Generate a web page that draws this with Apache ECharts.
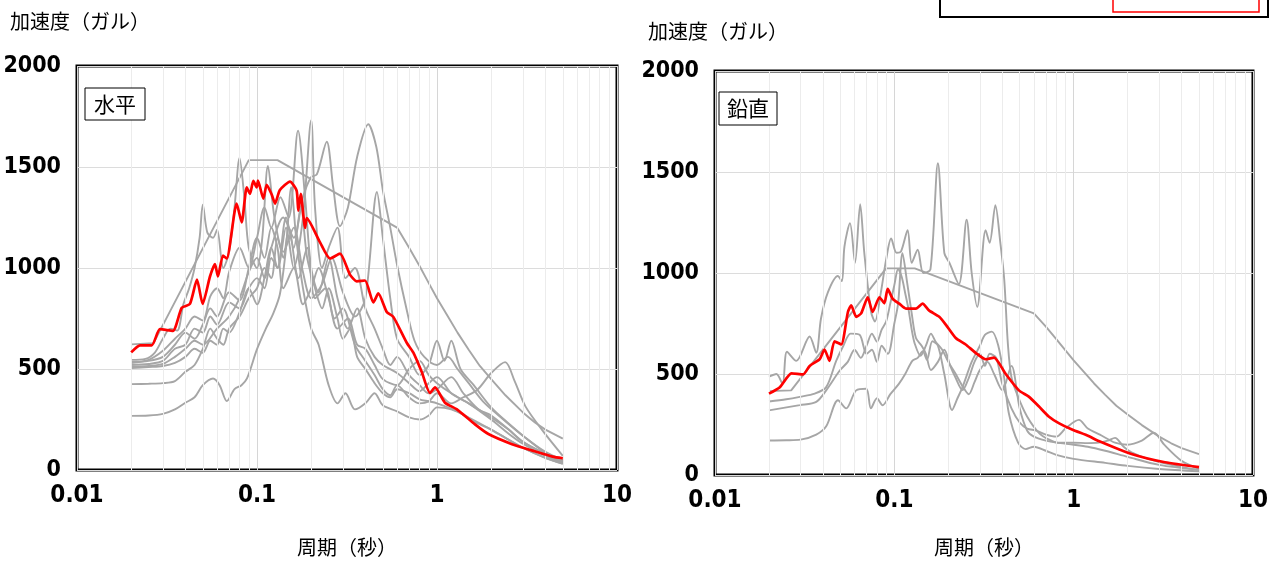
<!DOCTYPE html>
<html><head><meta charset="utf-8">
<script src="https://cdn.jsdelivr.net/npm/echarts/dist/echarts.min.js"></script>
<style>html,body{margin:0;padding:0;background:#fff}#c{width:1271px;height:562px}</style>
</head><body><div id="c"></div>
<script>
// ---------- tick labels ----------
const xTickLabels = ['0.01', '0.1', '1', '10'];
const minorTicks = [0.02,0.03,0.04,0.05,0.06,0.07,0.08,0.09,0.2,0.3,0.4,0.5,0.6,0.7,0.8,0.9,2,3,4,5,6,7,8,9];
const panelTitles = ['水平', '鉛直'];
const yAxisTitle = '加速度（ガル）';
const xAxisTitle = '周期（秒）';

// ---------- horizontal (水平) : [period(s), acceleration(gal)] ----------
const hDesign = [[0.02,622],[0.0266,628],[0.09,1534],[0.13,1534],[0.6,1200],[0.7,1100],[0.8,1010],[0.9,925],[1,850],[1.15,760],[1.3,680],[1.5,595],[1.73,515],[2,450],[2.4,370],[3,285],[3.5,235],[4,200],[5,155]];
const hRed = [[0.02,582],[0.0224,617],[0.026,617],[0.0289,697],[0.0341,689],[0.0382,803],[0.0424,822],[0.0464,942],[0.0499,822],[0.0548,958],[0.0584,1019],[0.0607,958],[0.0647,1062],[0.0679,1047],[0.0771,1319],[0.0822,1226],[0.0877,1399],[0.0914,1367],[0.0954,1431],[0.0996,1399],[0.1013,1433],[0.1084,1343],[0.1132,1412],[0.1207,1364],[0.126,1319],[0.134,1386],[0.1525,1428],[0.166,1383],[0.1696,1284],[0.175,1367],[0.185,1199],[0.189,1247],[0.224,1127],[0.2545,1047],[0.289,1071],[0.329,966],[0.358,934],[0.398,938],[0.443,830],[0.472,874],[0.526,782],[0.572,758],[0.679,630],[0.738,582],[0.822,486],[0.914,381],[0.975,409],[1.108,333],[1.285,301],[1.626,226],[1.93,178],[2.61,128],[3.39,96],[4.39,66],[5,58]];
const h1 = [[0.02,545],[0.024,550],[0.027,580],[0.03,650],[0.033,700],[0.036,690],[0.039,820],[0.042,900],[0.045,1000],[0.048,1150],[0.05,1313],[0.053,1175],[0.057,1150],[0.06,1190],[0.065,1000],[0.07,1080],[0.075,1300],[0.08,1545],[0.085,1350],[0.09,1100],[0.1,1000],[0.107,1150],[0.115,1505],[0.125,1250],[0.14,1080],[0.16,1200],[0.18,980],[0.2,850],[0.23,920],[0.26,1050],[0.3,880],[0.35,760],[0.4,850],[0.464,1376],[0.5,1150],[0.55,850],[0.6,650],[0.7,560],[0.8,470],[0.9,520],[1,640],[1.1,540],[1.2,640],[1.35,500],[1.6,420],[2,310],[2.5,230],[3,170],[4,85],[5,45]];
const h2 = [[0.02,530],[0.025,545],[0.03,590],[0.035,650],[0.04,700],[0.045,760],[0.05,740],[0.055,860],[0.06,900],[0.065,850],[0.07,980],[0.08,1100],[0.09,1000],[0.1,1150],[0.11,1300],[0.12,1200],[0.135,1350],[0.15,1250],[0.169,1680],[0.185,1350],[0.2,1000],[0.22,880],[0.25,1050],[0.28,850],[0.32,700],[0.36,800],[0.4,650],[0.45,560],[0.5,520],[0.6,480],[0.7,430],[0.8,390],[0.9,430],[1,460],[1.2,380],[1.5,330],[2,250],[2.5,180],[3,130],[4,70],[5,35]];
const h3 = [[0.02,520],[0.025,525],[0.03,540],[0.035,600],[0.04,620],[0.045,700],[0.05,680],[0.055,760],[0.06,720],[0.07,830],[0.08,800],[0.09,900],[0.1,950],[0.11,900],[0.12,1050],[0.13,1000],[0.145,1200],[0.16,1000],[0.18,1250],[0.2,1732],[0.21,1300],[0.23,1000],[0.25,1100],[0.28,1200],[0.31,950],[0.35,1000],[0.4,800],[0.45,700],[0.5,600],[0.55,520],[0.6,560],[0.7,470],[0.8,420],[0.9,380],[1,400],[1.2,460],[1.4,380],[1.7,300],[2,270],[2.5,200],[3,140],[4,80],[5,40]];
const h4 = [[0.02,510],[0.025,515],[0.03,525],[0.035,560],[0.04,600],[0.045,640],[0.05,620],[0.06,700],[0.07,760],[0.08,850],[0.09,980],[0.1,1050],[0.11,950],[0.12,1100],[0.14,1250],[0.16,1150],[0.18,1350],[0.2,1450],[0.215,1463],[0.244,1625],[0.265,1400],[0.289,1207],[0.32,1300],[0.36,1550],[0.415,1712],[0.46,1600],[0.5,1386],[0.55,1200],[0.6,1015],[0.68,790],[0.75,640],[0.85,560],[1,520],[1.15,560],[1.3,500],[1.5,430],[1.8,340],[2.2,270],[3,170],[4,90],[5,50]];
const h5 = [[0.02,425],[0.025,427],[0.03,430],[0.035,440],[0.04,486],[0.045,520],[0.05,600],[0.055,700],[0.06,650],[0.065,620],[0.07,700],[0.08,760],[0.09,850],[0.1,900],[0.11,1000],[0.12,950],[0.13,1150],[0.14,1050],[0.15,1200],[0.17,950],[0.19,1100],[0.21,850],[0.24,900],[0.27,750],[0.3,800],[0.35,620],[0.4,540],[0.45,470],[0.5,400],[0.55,370],[0.6,420],[0.7,360],[0.8,330],[0.9,340],[1,380],[1.2,330],[1.4,360],[1.67,396],[2,480],[2.39,534],[2.7,440],[3.1,315],[3.9,190],[5,70]];
const h6 = [[0.02,268],[0.025,270],[0.03,278],[0.035,300],[0.04,333],[0.045,360],[0.05,420],[0.057,453],[0.062,420],[0.068,341],[0.075,400],[0.082,420],[0.088,453],[0.1,598],[0.112,700],[0.123,774],[0.134,870],[0.145,1100],[0.155,1400],[0.165,1150],[0.18,900],[0.2,700],[0.22,620],[0.25,420],[0.28,330],[0.31,380],[0.35,300],[0.4,330],[0.45,380],[0.5,320],[0.6,290],[0.7,260],[0.8,250],[0.9,270],[1,310],[1.2,300],[1.5,260],[2,200],[3,110],[4,60],[5,30]];
const h7 = [[0.02,535],[0.025,540],[0.03,560],[0.035,620],[0.04,680],[0.045,650],[0.05,720],[0.055,800],[0.06,760],[0.07,880],[0.08,840],[0.09,1000],[0.1,1150],[0.11,1050],[0.12,1200],[0.13,1100],[0.14,900],[0.16,1000],[0.18,820],[0.2,900],[0.22,1000],[0.25,850],[0.28,700],[0.32,750],[0.36,620],[0.4,600],[0.45,520],[0.5,450],[0.6,420],[0.7,500],[0.8,540],[0.9,470],[1,430],[1.2,380],[1.5,330],[2,260],[2.5,200],[3,140],[4,80],[5,45]];
const h8 = [[0.02,505],[0.025,510],[0.03,515],[0.035,530],[0.04,560],[0.045,600],[0.05,580],[0.055,640],[0.06,620],[0.065,700],[0.07,680],[0.08,780],[0.09,900],[0.1,820],[0.11,950],[0.12,1100],[0.13,1000],[0.145,1250],[0.16,1100],[0.175,1300],[0.19,1050],[0.21,900],[0.23,800],[0.25,900],[0.28,750],[0.3,650],[0.33,700],[0.36,560],[0.4,500],[0.45,430],[0.5,380],[0.55,360],[0.6,400],[0.7,380],[0.8,350],[0.9,340],[1,330],[1.3,290],[1.6,240],[2,200],[3,110],[4,60],[5,32]];

// ---------- vertical (鉛直) ----------
const vDesign = [[0.02,415],[0.0266,419],[0.09,1023],[0.13,1023],[0.6,800],[0.7,735],[0.8,673],[0.9,617],[1,567],[1.15,507],[1.3,453],[1.5,397],[1.73,343],[2,300],[2.4,247],[3,190],[3.5,157],[4,133],[5,103]];
const vRed = [[0.02,403],[0.023,435],[0.0267,503],[0.031,498],[0.0337,540],[0.0383,573],[0.0408,621],[0.0435,565],[0.0464,662],[0.0506,646],[0.0551,807],[0.0575,840],[0.0613,783],[0.0653,800],[0.0711,880],[0.0757,807],[0.0826,880],[0.088,850],[0.0918,921],[0.098,872],[0.1066,848],[0.116,824],[0.132,824],[0.1436,848],[0.156,815],[0.178,783],[0.194,743],[0.22,678],[0.25,646],[0.284,605],[0.323,573],[0.36,581],[0.418,500],[0.495,419],[0.562,388],[0.639,340],[0.726,290],[0.826,257],[0.979,225],[1.21,193],[1.38,168],[2.1,104],[3.23,63],[5,39]];
const v1 = [[0.02,487],[0.022,500],[0.0238,451],[0.0252,610],[0.0284,565],[0.0337,686],[0.0367,605],[0.039,775],[0.0426,904],[0.0484,985],[0.051,960],[0.0527,1131],[0.0566,1247],[0.0604,1050],[0.0645,1341],[0.068,1100],[0.0742,807],[0.078,760],[0.084,900],[0.09,1066],[0.096,1171],[0.103,1100],[0.109,1107],[0.1186,1212],[0.125,1050],[0.135,1115],[0.145,1000],[0.159,1018],[0.175,1543],[0.19,1100],[0.203,1050],[0.229,945],[0.253,1264],[0.27,1000],[0.29,832],[0.323,1212],[0.34,1150],[0.366,1336],[0.39,1150],[0.41,969],[0.43,646],[0.45,484],[0.49,387],[0.55,290],[0.64,209],[0.73,175],[0.82,160],[1,160],[1.2,158],[1.38,160],[1.55,170],[1.7,184],[1.9,140],[2.1,112],[2.6,80],[3.5,50],[5,24]];
const v3 = [[0.02,364],[0.025,375],[0.0297,387],[0.036,403],[0.0417,435],[0.0474,565],[0.052,640],[0.057,700],[0.064,694],[0.07,600],[0.075,620],[0.08,560],[0.085,640],[0.092,600],[0.1,750],[0.105,850],[0.111,1098],[0.118,950],[0.125,800],[0.132,678],[0.142,640],[0.15,600],[0.16,520],[0.175,560],[0.19,620],[0.205,540],[0.22,480],[0.24,420],[0.26,480],[0.28,560],[0.3,600],[0.32,540],[0.34,600],[0.37,580],[0.4,450],[0.45,330],[0.5,260],[0.55,230],[0.62,220],[0.7,200],[0.8,190],[0.9,230],[1.07,273],[1.2,230],[1.4,200],[1.7,160],[2,150],[2.4,170],[2.8,209],[3.2,150],[4,70],[5,30]];
const v4 = [[0.02,320],[0.0297,346],[0.0367,362],[0.0417,419],[0.0495,516],[0.055,560],[0.06,620],[0.065,580],[0.07,640],[0.075,700],[0.08,660],[0.085,720],[0.09,760],[0.095,850],[0.1,940],[0.105,1020],[0.11,980],[0.115,900],[0.12,820],[0.125,720],[0.13,650],[0.14,590],[0.15,640],[0.16,700],[0.17,660],[0.185,620],[0.2,560],[0.22,500],[0.24,440],[0.26,400],[0.28,460],[0.3,520],[0.33,560],[0.36,500],[0.4,420],[0.45,540],[0.5,330],[0.55,220],[0.6,190],[0.7,170],[0.8,160],[1,150],[1.2,140],[1.5,120],[2,90],[3,50],[5,25]];
const v5 = [[0.02,171],[0.025,172],[0.03,175],[0.0367,200],[0.0417,241],[0.0485,370],[0.0539,330],[0.0613,419],[0.0697,427],[0.074,330],[0.08,380],[0.086,345],[0.095,400],[0.106,451],[0.115,500],[0.126,565],[0.135,580],[0.144,613],[0.152,570],[0.163,662],[0.175,640],[0.19,500],[0.21,322],[0.225,380],[0.24,435],[0.27,560],[0.3,640],[0.32,694],[0.35,710],[0.38,640],[0.41,480],[0.435,306],[0.49,160],[0.54,128],[0.6,140],[0.7,120],[0.8,100],[1,80],[1.5,60],[2,45],[3,30],[5,18]];

const hGray = [h1, h2, h3, h4, h5, h6, h7, h8];
const vGray = [v1, v3, v4, v5];

// ---------- chart ----------
const chart = echarts.init(document.getElementById('c'), null, {renderer: 'canvas'});
const numFont = '"Liberation Sans Narrow", "DejaVu Sans Condensed", "Liberation Sans", Arial, sans-serif';
const cjk = '"Noto Sans CJK JP", "Noto Sans CJK SC", sans-serif';
const GRAY = '#a6a6a6';

function xAxisCfg(gi) {
  return {
    type: 'log', logBase: 10, min: 0.01, max: 10, gridIndex: gi,
    name: xAxisTitle, nameLocation: 'middle', nameGap: gi === 0 ? 67 : 62,
    nameTextStyle: {fontFamily: cjk, fontSize: 20, color: '#000'},
    axisLine: {show: false}, axisTick: {show: false},
    axisLabel: {
      color: '#000', fontFamily: numFont, fontWeight: 'bold', fontSize: 24, margin: 14,
      showMinLabel: true, showMaxLabel: true,
      formatter: v => xTickLabels[Math.round(Math.log10(v)) + 2]
    },
    splitLine: {show: true, lineStyle: {color: '#d6d6d6', width: 1}}
  };
}
function yAxisCfg(gi) {
  return {
    type: 'value', min: 0, max: 2000, interval: 500, gridIndex: gi,
    axisLine: {show: false}, axisTick: {show: false},
    axisLabel: {color: '#000', fontFamily: numFont, fontWeight: 'bold', fontSize: 23, margin: 16,
      formatter: v => String(v)},
    splitLine: {show: true, lineStyle: {color: '#dcdcdc', width: 1}}
  };
}
function grayLine(data, gi, smooth) {
  return {type: 'line', xAxisIndex: gi, yAxisIndex: gi, data: data, symbol: 'none', showSymbol: false,
    smooth: smooth, lineStyle: {color: GRAY, width: 1.9}, silent: true, z: 3};
}
function redLine(data, gi) {
  return {type: 'line', xAxisIndex: gi, yAxisIndex: gi, data: data, symbol: 'none', showSymbol: false,
    smooth: 0.2, lineStyle: {color: '#ff0000', width: 2.7}, silent: true, z: 5};
}
function minorGrid(gi) {
  return {type: 'line', xAxisIndex: gi, yAxisIndex: gi, data: [[1, 0]], symbol: 'none', showSymbol: false,
    lineStyle: {width: 0, opacity: 0}, silent: true, z: 1,
    markLine: {silent: true, symbol: 'none', animation: false, label: {show: false},
      lineStyle: {color: '#ececec', width: 1, type: 'solid'},
      data: minorTicks.map(t => ({xAxis: t}))}};
}

const series = [minorGrid(0), minorGrid(1)];
series.push(grayLine(hDesign, 0, false));
hGray.forEach(d => series.push(grayLine(d, 0, 0.3)));
series.push(redLine(hRed, 0));
series.push(grayLine(vDesign, 1, false));
vGray.forEach(d => series.push(grayLine(d, 1, 0.3)));
series.push(redLine(vRed, 1));

function panelLabel(x, y, w, h, text) {
  return {type: 'group', children: [
    {type: 'rect', shape: {x: x, y: y, width: w, height: h}, style: {fill: '#fff', stroke: '#000', lineWidth: 1}, z: 10},
    {type: 'text', x: x + w / 2, y: y + h / 2, style: {text: text, fill: '#000', font: '21px ' + cjk, textAlign: 'center', textVerticalAlign: 'middle'}, z: 11}
  ]};
}

chart.setOption({
  animation: false,
  backgroundColor: '#fff',
  grid: [
    {left: 77, top: 66, width: 540, height: 415, show: true, borderColor: '#000', borderWidth: 3, backgroundColor: 'transparent', containLabel: false},
    {left: 715, top: 71, width: 540, height: 412, show: true, borderColor: '#000', borderWidth: 3, backgroundColor: 'transparent', containLabel: false}
  ],
  xAxis: [xAxisCfg(0), xAxisCfg(1)],
  yAxis: [yAxisCfg(0), yAxisCfg(1)],
  series: series,
  graphic: [
    {type: 'text', left: 10, top: 11, style: {text: yAxisTitle, fill: '#000', font: '20px ' + cjk}},
    {type: 'text', left: 648, top: 21, style: {text: yAxisTitle, fill: '#000', font: '20px ' + cjk}},
    panelLabel(85, 88, 60, 32, panelTitles[0]),
    panelLabel(719, 92, 58, 33, panelTitles[1]),
    {type: 'rect', shape: {x: 940, y: -10, width: 328, height: 27}, style: {fill: '#fff', stroke: '#000', lineWidth: 2}, z: 10},
    {type: 'rect', shape: {x: 1113, y: -10, width: 146, height: 22}, style: {fill: 'none', stroke: '#ff0000', lineWidth: 1.5}, z: 11}
  ]
});
</script>
</body></html>
